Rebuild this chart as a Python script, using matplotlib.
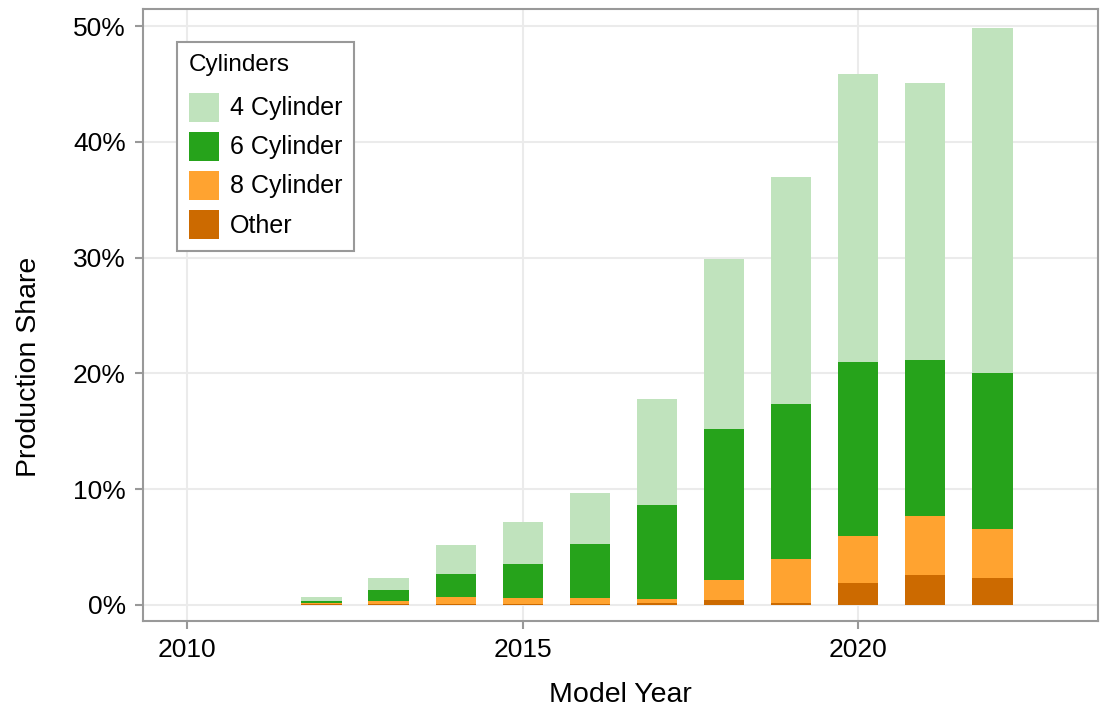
import matplotlib
matplotlib.use("Agg")
import matplotlib.pyplot as plt
import numpy as np

plt.rcParams['font.family'] = ['Liberation Sans', 'DejaVu Sans']

years = np.arange(2010, 2023)
# production share, percent
other = [0.02, 0.02, 0.05, 0.05, 0.10, 0.10, 0.10, 0.17, 0.43, 0.17, 1.90, 2.59, 2.33]
cyl8 = [0.02, 0.02, 0.15, 0.29, 0.59, 0.50, 0.50, 0.33, 1.73, 3.80, 4.05, 5.08, 4.22]
cyl6 = [0.00, 0.00, 0.14, 0.95, 1.98, 2.93, 4.66, 8.10, 13.04, 13.43, 15.05, 13.53, 13.45]
cyl4 = [0.00, 0.00, 0.35, 1.03, 2.50, 3.63, 4.40, 9.20, 14.70, 19.60, 24.90, 23.90, 29.80]

series = [("Other", other, "#cc6a00"),
          ("8 Cylinder", cyl8, "#ffa330"),
          ("6 Cylinder", cyl6, "#26a31b"),
          ("4 Cylinder", cyl4, "#c0e3bd")]

fig = plt.figure(figsize=(11, 7.07), dpi=100)
ax = fig.add_axes([0.13, 0.122, 0.868, 0.865])

bottom = np.zeros(len(years))
handles = {}
for name, vals, col in series:
    b = ax.bar(years, vals, width=0.6, bottom=bottom, color=col, label=name, zorder=3)
    handles[name] = b
    bottom += np.array(vals)

ax.set_xlim(2009.34, 2023.57)
ax.set_ylim(-1.36, 51.46)
ax.set_xticks([2010, 2015, 2020])
ax.set_yticks([0, 10, 20, 30, 40, 50])
ax.set_yticklabels([f"{v}%" for v in range(0, 51, 10)])

ax.grid(True, color="#ebebeb", linewidth=1.5, zorder=0)
for s in ax.spines.values():
    s.set_color("#999999")
    s.set_linewidth(1.5)
ax.tick_params(axis="both", colors="#999999", length=6, width=1.5,
               labelsize=19, labelcolor="black", pad=6.5)

ax.set_xlabel("Model Year", fontsize=20.5, labelpad=14)
ax.set_ylabel("Production Share", fontsize=20.5)
ax.yaxis.set_label_coords(-0.106, 0.415)

order = ["4 Cylinder", "6 Cylinder", "8 Cylinder", "Other"]
leg = ax.legend([handles[n] for n in order], order, title="Cylinders",
                loc="upper left", bbox_to_anchor=(0.0356, 0.9465), borderaxespad=0,
                fontsize=18, title_fontsize=17.5, fancybox=False, framealpha=1,
                edgecolor="#999999", handlelength=1.2, handleheight=1.41,
                labelspacing=0.4, handletextpad=0.44, borderpad=0.48)
leg.get_frame().set_linewidth(1.5)
leg._legend_box.align = "left"
leg._legend_box.sep = 12

fig.savefig("out.png", dpi=100)
